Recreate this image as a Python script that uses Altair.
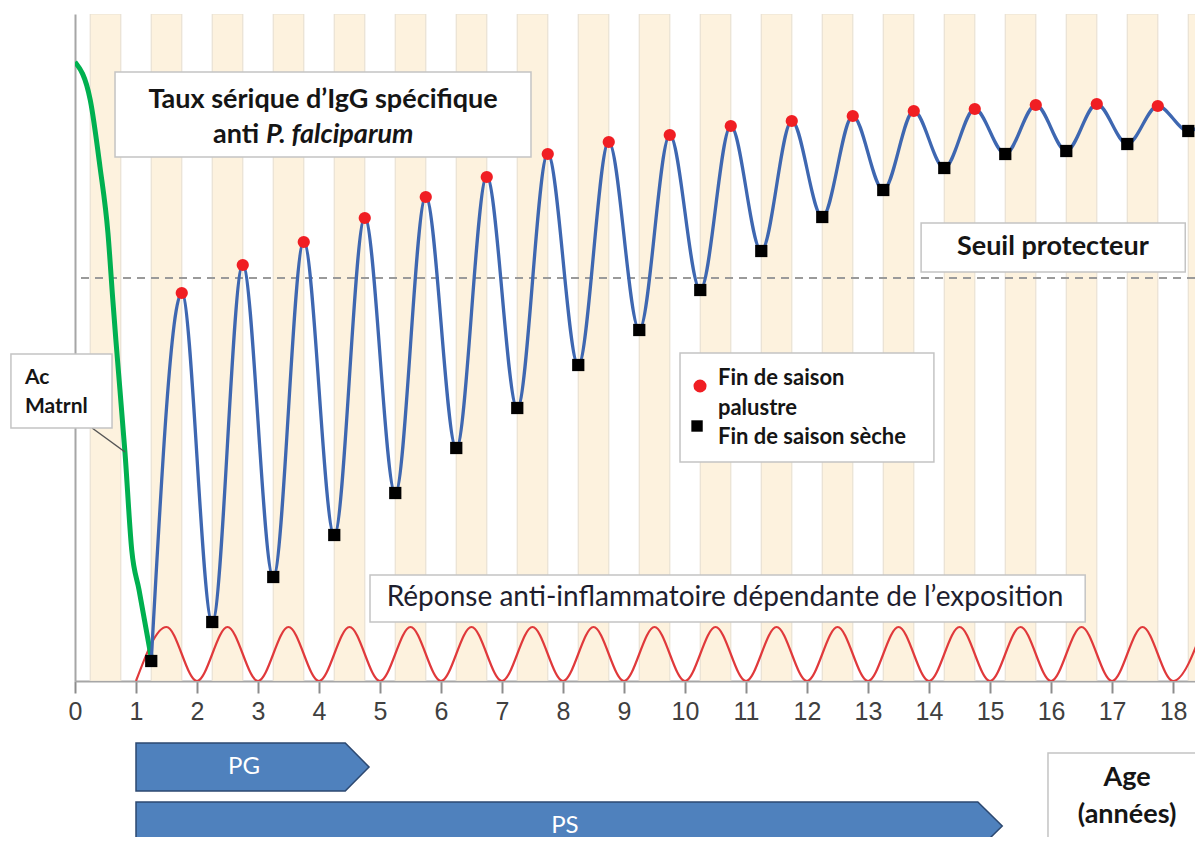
import altair as alt
import pandas as pd

# ---------------- data (age in years, IgG level in relative units; 0 = axis) -------------
trough_age = [1.25, 2.25, 3.25, 4.25, 5.25, 6.25, 7.25, 8.25, 9.25, 10.25, 11.25, 12.25,
              13.25, 14.25, 15.25, 16.25, 17.25, 18.25]
trough_igg = [20, 59, 104, 146, 188, 233, 273, 316, 351, 391, 430, 464,
              491, 513, 527, 530, 537, 550]
peak_age = [1.75, 2.75, 3.75, 4.75, 5.75, 6.75, 7.75, 8.75, 9.75, 10.75, 11.75, 12.75,
            13.75, 14.75, 15.75, 16.75, 17.75, 18.75]
peak_igg = [388, 416, 439, 463, 484, 504, 527, 539, 546, 555, 560, 565,
            570, 572, 576, 577, 575, 578]

infl_age = [1.0, 1.5, 2.0, 2.5, 3.0, 3.5, 4.0, 4.5, 5.0, 5.5, 6.0, 6.5, 7.0, 7.5, 8.0, 8.5,
            9.0, 9.5, 10.0, 10.5, 11.0, 11.5, 12.0, 12.5, 13.0, 13.5, 14.0, 14.5, 15.0, 15.5,
            16.0, 16.5, 17.0, 17.5, 18.0, 18.5]
infl_level = [0, 54, 0, 54, 0, 54, 0, 54, 0, 54, 0, 54, 0, 54, 0, 54, 0, 54,
              0, 54, 0, 54, 0, 54, 0, 54, 0, 54, 0, 54, 0, 54, 0, 54, 0, 54]

mat_age = [0.0, 0.25, 0.41, 0.54, 0.62, 0.67, 0.82, 0.93, 1.05, 1.26]
mat_level = [619, 581, 514, 448, 381, 341, 228, 131, 91, 20]

season_start = [0.25, 1.25, 2.25, 3.25, 4.25, 5.25, 6.25, 7.25, 8.25, 9.25, 10.25, 11.25,
                12.25, 13.25, 14.25, 15.25, 16.25, 17.25, 18.25]
season_end = [0.75, 1.75, 2.75, 3.75, 4.75, 5.75, 6.75, 7.75, 8.75, 9.75, 10.75, 11.75,
              12.75, 13.75, 14.75, 15.75, 16.75, 17.75, 18.75]

threshold = 403
age_ticks = list(range(0, 19))

# phases: PG / PS arrows (start, body end, tip)
phase_names = ["PG", "PS"]
phase_start = [1.0, 1.0]
phase_body_end = [4.43, 14.80]
phase_tip = [4.82, 15.20]

X_MAX = 18.36
Y_MAX = 667

BOLD = "Lato"
TXT = "#151515"

# ---------------- scales / axes ----------------
XS = alt.Scale(domain=[0, X_MAX], nice=False, zero=False)
YS = alt.Scale(domain=[0, Y_MAX], nice=False, zero=False)
XAXIS = alt.Axis(values=age_ticks, title=None, grid=False, labelFlush=False,
                 labelOverlap=False, labelFontSize=25, labelFont="Liberation Sans",
                 labelColor="#404040", tickColor="#8C8C8C", tickSize=12, tickWidth=2,
                 domainColor="#A6A6A6", domainWidth=2, labelPadding=6)
YAXIS = alt.Axis(title=None, labels=False, ticks=False, grid=False,
                 domainColor="#A6A6A6", domainWidth=2)


def X(f="x"):
    return alt.X(f"{f}:Q", scale=XS, axis=XAXIS)


def Y(f="y"):
    return alt.Y(f"{f}:Q", scale=YS, axis=YAXIS, stack=None)


# ---------------- layers ----------------
stripes = alt.Chart(pd.DataFrame({"x": season_start, "x2": season_end})).mark_rect(
    fill="#FDF2DE", stroke="#E9E1D3", strokeWidth=1.2, clip=True
).encode(x=X(), x2="x2:Q")

thr = alt.Chart(pd.DataFrame({"y": [threshold]})).mark_rule(
    color="#9A9A9A", strokeDash=[8, 6], strokeWidth=2
).encode(y=Y())

infl = alt.Chart(pd.DataFrame({"x": infl_age, "y": infl_level})).mark_line(
    color="#E0393B", strokeWidth=2.2, interpolate="monotone", clip=True
).encode(x=X(), y=Y())

blue_df = pd.DataFrame({"x": trough_age + peak_age, "y": trough_igg + peak_igg}).sort_values("x")
igg = alt.Chart(blue_df).mark_line(
    color="#3E67B1", strokeWidth=3.3, interpolate="monotone", clip=True
).encode(x=X(), y=Y())

mat = alt.Chart(pd.DataFrame({"x": mat_age, "y": mat_level})).mark_line(
    color="#00B050", strokeWidth=5, interpolate="monotone", clip=True
).encode(x=X(), y=Y())

peaks = alt.Chart(pd.DataFrame({"x": peak_age, "y": peak_igg})).mark_point(
    shape="circle", filled=True, color="#F01E23", size=150, opacity=1, clip=True
).encode(x=X(), y=Y())

troughs = alt.Chart(pd.DataFrame({"x": trough_age, "y": trough_igg})).mark_point(
    shape="square", filled=True, color="#000000", size=150, opacity=1, clip=True
).encode(x=X(), y=Y())

# leader line for maternal antibodies label
leader = alt.Chart(pd.DataFrame({"x": [0.28], "x2": [0.82], "y": [253], "y2": [229]})).mark_rule(
    color="#555555", strokeWidth=1.5
).encode(x=X(), x2="x2:Q", y=Y(), y2="y2:Q")

# annotation boxes
boxes_df = pd.DataFrame({
    "x": [0.656, 13.87, 9.918, 4.836, -1.05, 15.95],
    "x2": [7.475, 18.20, 14.08, 16.56, 0.607, 18.8],
    "y": [609, 458, 328, 106, 327, -72],
    "y2": [524, 409, 219, 59, 253, -160],
})
boxes = alt.Chart(boxes_df).mark_rect(
    fill="white", stroke="#C4C4C4", strokeWidth=1.5
).encode(x=X(), x2="x2:Q", y=Y(), y2="y2:Q")

# centered bold texts
ctext_df = pd.DataFrame({
    "x": [4.066, 16.03, 17.246, 17.246],
    "y": [581, 434, -97, -134],
    "t": ["Taux sérique d’IgG spécifique", "Seuil protecteur", "Age", "(années)"],
})
ctext = alt.Chart(ctext_df).mark_text(
    font=BOLD, fontWeight="bold", fontSize=27, color=TXT, align="center", baseline="middle"
).encode(x=X(), y=Y(), text="t:N")

anti = alt.Chart(pd.DataFrame({"x": [3.02], "y": [546], "t": ["anti"]})).mark_text(
    font=BOLD, fontWeight="bold", fontSize=27, color=TXT, align="right", baseline="middle"
).encode(x=X(), y=Y(), text="t:N")
falci = alt.Chart(pd.DataFrame({"x": [3.13], "y": [546], "t": ["P. falciparum"]})).mark_text(
    font=BOLD, fontWeight="bold", fontStyle="italic", fontSize=27, color=TXT,
    align="left", baseline="middle"
).encode(x=X(), y=Y(), text="t:N")

# legend-box texts
ltext_df = pd.DataFrame({
    "x": [10.54, 10.54, 10.54],
    "y": [303, 273, 244],
    "t": ["Fin de saison", "palustre", "Fin de saison sèche"],
})
ltext = alt.Chart(ltext_df).mark_text(
    font=BOLD, fontWeight="bold", fontSize=22, color=TXT, align="left", baseline="middle"
).encode(x=X(), y=Y(), text="t:N")

lg_dot = alt.Chart(pd.DataFrame({"x": [10.246], "y": [295]})).mark_point(
    shape="circle", filled=True, color="#F01E23", size=170, opacity=1
).encode(x=X(), y=Y())
lg_sq = alt.Chart(pd.DataFrame({"x": [10.197], "y": [255]})).mark_point(
    shape="square", filled=True, color="#000000", size=130, opacity=1
).encode(x=X(), y=Y())

# maternal antibody label
ac_df = pd.DataFrame({"x": [-0.82, -0.82], "y": [303, 274], "t": ["Ac", "Matrnl"]})
ac = alt.Chart(ac_df).mark_text(
    font=BOLD, fontWeight="bold", fontSize=21, color=TXT, align="left", baseline="middle"
).encode(x=X(), y=Y(), text="t:N")

# anti-inflammatory response label
resp = alt.Chart(pd.DataFrame({"x": [10.656], "y": [83],
                               "t": ["Réponse anti-inflammatoire dépendante de l’exposition"]})).mark_text(
    font="Lato", fontSize=28, color="#1E1E2E", align="center", baseline="middle"
).encode(x=X(), y=Y(), text="t:N")

# phase arrows (pentagons drawn as areas)
rows = []
tops = [-62, -121]
bots = [-110, -169]
for n, s, b, tp, t0, b0 in zip(phase_names, phase_start, phase_body_end, phase_tip, tops, bots):
    mid = (t0 + b0) / 2
    rows += [
        {"name": n, "x": s, "y": t0, "y2": b0},
        {"name": n, "x": b, "y": t0, "y2": b0},
        {"name": n, "x": tp, "y": mid, "y2": mid},
    ]
arrows = alt.Chart(pd.DataFrame(rows)).mark_area(
    fill="#4F81BD", stroke="#2C4870", strokeWidth=1.5, opacity=1, fillOpacity=1,
    orient="vertical", interpolate="linear"
).encode(x=X(), y=Y(), y2="y2:Q", detail="name:N")

arrow_txt = alt.Chart(pd.DataFrame({"x": [2.77, 8.03], "y": [-86, -145], "t": ["PG", "PS"]})).mark_text(
    font=BOLD, fontSize=24, color="white", align="center", baseline="middle"
).encode(x=X(), y=Y(), text="t:N")

chart = alt.layer(
    stripes, thr, infl, mat, igg, peaks, troughs, leader, boxes,
    ctext, anti, falci, ltext, lg_dot, lg_sq, ac, resp, arrows, arrow_txt
).properties(
    width=1120, height=667,
    autosize=alt.AutoSizeParams(type="none"),
    padding={"left": 67, "top": 6, "right": 0, "bottom": 156},
    background="white",
).configure_view(strokeWidth=0)

chart.save("out.html", embed_options={"renderer": "svg", "actions": False})
